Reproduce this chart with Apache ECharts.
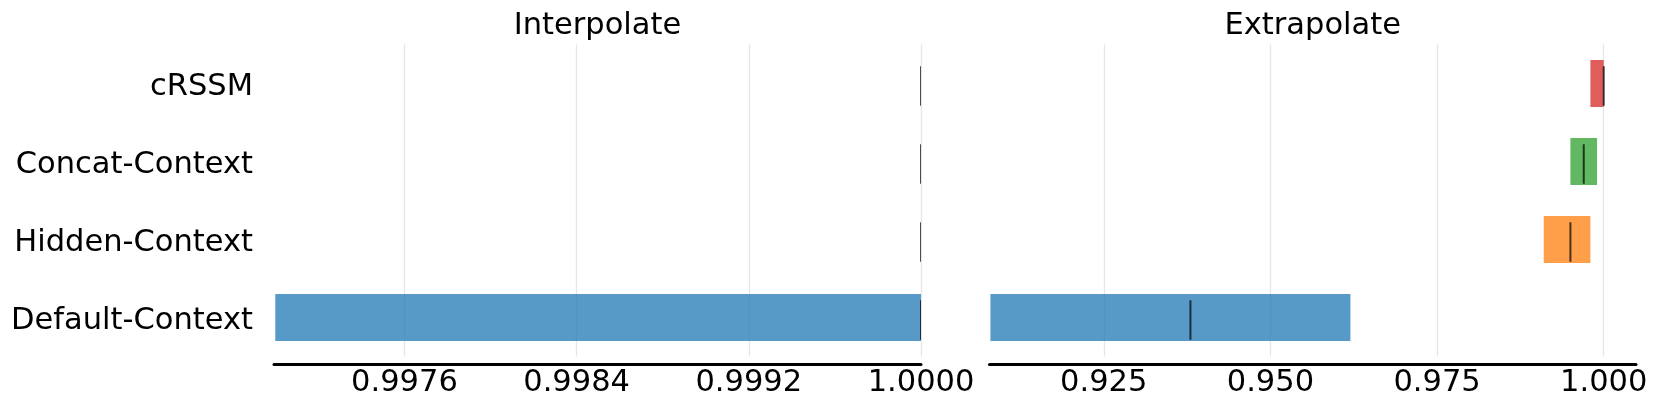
<!DOCTYPE html>
<html>
<head>
<meta charset="utf-8">
<script src="https://cdn.jsdelivr.net/npm/echarts@6/dist/echarts.min.js"></script>
<style>
  html, body { margin: 0; padding: 0; background: #fff; }
  #chart { width: 1660px; height: 412px; }
</style>
</head>
<body>
<div id="chart"></div>
<script>
// categories top to bottom
const categories = ['cRSSM', 'Concat-Context', 'Hidden-Context', 'Default-Context'];
const barColors = ['rgba(214,39,40,0.75)', 'rgba(44,160,44,0.75)', 'rgba(255,127,14,0.75)', 'rgba(31,119,180,0.75)'];

// Interpolate panel
const interpLow = [1.0, 1.0, 1.0, 0.9970];
const interpHigh = [1.0, 1.0, 1.0, 1.0];
const interpMedian = [1.0, 1.0, 1.0, 1.0];
const interpTicks = [0.9976, 0.9984, 0.9992, 1.0];

// Extrapolate panel
const extrapLow = [0.998, 0.995, 0.991, 0.908];
const extrapHigh = [1.0, 0.999, 0.998, 0.962];
const extrapMedian = [1.0, 0.997, 0.995, 0.938];
const extrapTicks = [0.925, 0.950, 0.975, 1.0];

const font = 'DejaVu Sans';
const fs = 30.5;

function rows(lo, hi, med) {
  return categories.map((c, i) => [lo[i], hi[i], med[i], i]);
}

function renderRange(params, api) {
  const lo = api.value(0), hi = api.value(1), med = api.value(2), cat = api.value(3);
  const p0 = api.coord([lo, cat]);
  const p1 = api.coord([hi, cat]);
  const pm = api.coord([med, cat]);
  const band = api.size([0, 1])[1];
  const h = band * 0.6;
  const children = [];
  if (hi > lo) {
    children.push({
      type: 'rect',
      shape: { x: p0[0], y: p0[1] - h / 2, width: p1[0] - p0[0], height: h },
      style: { fill: barColors[params.dataIndex] }
    });
  }
  children.push({
    type: 'line',
    shape: { x1: pm[0], y1: pm[1] - band * 0.222, x2: pm[0], y2: pm[1] + band * 0.285 },
    style: { stroke: 'rgba(0,0,0,0.7)', lineWidth: 2 }
  });
  return { type: 'group', children: children };
}

function xAxisFor(idx, min, max, ticks, digits) {
  return {
    type: 'value',
    gridIndex: idx,
    min: min,
    max: max,
    offset: 7.5,
    axisLine: { show: true, onZero: false, lineStyle: { color: '#000', width: 3 } },
    axisTick: { show: false, customValues: ticks },
    axisLabel: {
      customValues: ticks,
      formatter: v => v.toFixed(digits),
      fontFamily: font, fontSize: fs, color: '#000', margin: 4
    },
    splitLine: { show: true, customValues: ticks, lineStyle: { color: '#e6e6e6', width: 1.3 } }
  };
}

const titleStyle = { fontFamily: font, fontSize: fs, fontWeight: 'normal', color: '#000' };

const chart = echarts.init(document.getElementById('chart'));
chart.setOption({
  animation: false,
  backgroundColor: '#fff',
  title: [
    { text: 'Interpolate', left: 597.5, top: 11, padding: 0, textAlign: 'center', textStyle: titleStyle },
    { text: 'Extrapolate', left: 1312.75, top: 11, padding: 0, textAlign: 'center', textStyle: titleStyle }
  ],
  grid: [
    { left: 274, width: 647, top: 44.5, height: 312 },
    { left: 989.5, width: 646.5, top: 44.5, height: 312 }
  ],
  xAxis: [
    xAxisFor(0, 0.996994, 1.0, interpTicks, 4),
    xAxisFor(1, 0.90786, 1.00484, extrapTicks, 3)
  ],
  yAxis: [
    {
      type: 'category', gridIndex: 0, data: categories, inverse: true,
      axisLine: { show: false }, axisTick: { show: false }, splitLine: { show: false },
      axisLabel: {
        margin: 21,
        formatter: v => '{s|}\n{t|' + v + '}',
        rich: {
          s: { fontSize: 1, lineHeight: 8 },
          t: { fontFamily: font, fontSize: fs, color: '#000', lineHeight: 36 }
        }
      }
    },
    {
      type: 'category', gridIndex: 1, data: categories, inverse: true,
      axisLine: { show: false }, axisTick: { show: false }, splitLine: { show: false },
      axisLabel: { show: false }
    }
  ],
  series: [
    {
      name: 'Interpolate', type: 'custom', xAxisIndex: 0, yAxisIndex: 0,
      renderItem: renderRange, clip: true,
      encode: { x: [0, 1, 2], y: 3 },
      data: rows(interpLow, interpHigh, interpMedian)
    },
    {
      name: 'Extrapolate', type: 'custom', xAxisIndex: 1, yAxisIndex: 1,
      renderItem: renderRange, clip: true,
      encode: { x: [0, 1, 2], y: 3 },
      data: rows(extrapLow, extrapHigh, extrapMedian)
    }
  ]
});
</script>
</body>
</html>
